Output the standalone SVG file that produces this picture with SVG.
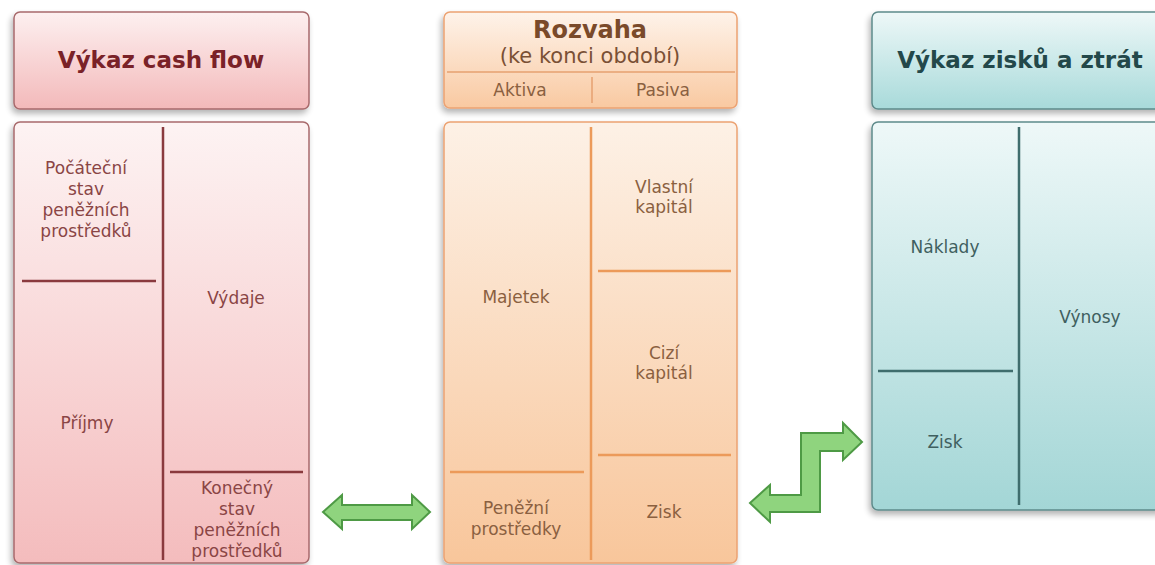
<svg xmlns="http://www.w3.org/2000/svg" width="1155" height="565" viewBox="0 0 1155 565">
<defs>
<linearGradient id="gRedH" x1="0" y1="0" x2="0" y2="1"><stop offset="0" stop-color="#fdf0f0"/><stop offset="1" stop-color="#f3b9ba"/></linearGradient>
<linearGradient id="gRedB" x1="0" y1="0" x2="0" y2="1"><stop offset="0" stop-color="#fdf3f3"/><stop offset="1" stop-color="#f4bcbd"/></linearGradient>
<linearGradient id="gOrH" x1="0" y1="0" x2="0" y2="1"><stop offset="0" stop-color="#fef3ea"/><stop offset="1" stop-color="#f9c9a1"/></linearGradient>
<linearGradient id="gOrB" x1="0" y1="0" x2="0" y2="1"><stop offset="0" stop-color="#fdf1e6"/><stop offset="1" stop-color="#f8c69b"/></linearGradient>
<linearGradient id="gTeH" x1="0" y1="0" x2="0" y2="1"><stop offset="0" stop-color="#eef8f8"/><stop offset="1" stop-color="#a8dada"/></linearGradient>
<linearGradient id="gTeB" x1="0" y1="0" x2="0" y2="1"><stop offset="0" stop-color="#eef8f8"/><stop offset="1" stop-color="#a3d6d6"/></linearGradient>
<filter id="sh" x="-10%" y="-10%" width="125%" height="125%"><feGaussianBlur in="SourceAlpha" stdDeviation="3"/><feOffset dx="-2" dy="4"/><feComponentTransfer><feFuncA type="linear" slope="0.3"/></feComponentTransfer><feMerge><feMergeNode/><feMergeNode in="SourceGraphic"/></feMerge></filter>
</defs>
<style>
text{font-family:"DejaVu Sans","Liberation Sans",Arial,sans-serif;text-anchor:middle}
.t{font-size:17px}
.red{fill:#8a4545}
.or{fill:#8a6040}
.te{fill:#3f5f5f}
.hd{font-size:23px;font-weight:bold}
.lr{stroke:#8a3a3e;stroke-width:2.5}
.lo{stroke:#ec9a5a;stroke-width:2.5}
.lt{stroke:#3f6d6d;stroke-width:2.5}
.arrow{fill:#8fd47e;stroke:#4e9a45;stroke-width:2;stroke-linejoin:miter}
</style>

<g id="cashflow-header">
<rect x="14" y="12" width="295" height="97" rx="6" fill="url(#gRedH)" stroke="#a86a6c" stroke-width="1.5" filter="url(#sh)"/>
<text x="161" y="68" class="hd" fill="#7a2228">Výkaz cash flow</text>
</g>
<g id="cashflow-body">
<rect x="14" y="122" width="295" height="441" rx="6" fill="url(#gRedB)" stroke="#a86a6c" stroke-width="1.5" filter="url(#sh)"/>
<line x1="163" y1="127" x2="163" y2="560" class="lr"/>
<line x1="22" y1="281" x2="156" y2="281" class="lr"/>
<line x1="170" y1="472" x2="303" y2="472" class="lr"/>
<text class="t red" x="86" y="174">Počáteční</text>
<text class="t red" x="86" y="195">stav</text>
<text class="t red" x="86" y="216">peněžních</text>
<text class="t red" x="86" y="237">prostředků</text>
<text class="t red" x="236" y="304">Výdaje</text>
<text class="t red" x="87" y="429">Příjmy</text>
<text class="t red" x="237" y="494">Konečný</text>
<text class="t red" x="237" y="515">stav</text>
<text class="t red" x="237" y="536">peněžních</text>
<text class="t red" x="237" y="557">prostředků</text>
</g>

<g id="rozvaha-header">
<rect x="444" y="12" width="293" height="96" rx="6" fill="url(#gOrH)" stroke="#eca272" stroke-width="1.5" filter="url(#sh)"/>
<text x="590" y="38" font-size="24" font-weight="bold" fill="#7a4a2a">Rozvaha</text>
<text x="590" y="63" font-size="21" fill="#7a5035">(ke konci období)</text>
<line x1="447" y1="72" x2="735" y2="72" stroke="#e6a070" stroke-width="1.5"/>
<line x1="592" y1="77" x2="592" y2="103" stroke="#e6a070" stroke-width="1.5"/>
<text class="t or" x="520" y="96">Aktiva</text>
<text class="t or" x="663" y="96">Pasiva</text>
</g>
<g id="rozvaha-body">
<rect x="444" y="122" width="293" height="441" rx="6" fill="url(#gOrB)" stroke="#eca272" stroke-width="1.5" filter="url(#sh)"/>
<line x1="591" y1="127" x2="591" y2="560" class="lo"/>
<line x1="598" y1="271" x2="731" y2="271" class="lo"/>
<line x1="598" y1="455" x2="731" y2="455" class="lo"/>
<line x1="450" y1="472" x2="584" y2="472" class="lo"/>
<text class="t or" x="664" y="193">Vlastní</text>
<text class="t or" x="664" y="213">kapitál</text>
<text class="t or" x="516" y="303">Majetek</text>
<text class="t or" x="664" y="359">Cizí</text>
<text class="t or" x="664" y="379">kapitál</text>
<text class="t or" x="516" y="514">Peněžní</text>
<text class="t or" x="516" y="535">prostředky</text>
<text class="t or" x="664" y="518">Zisk</text>
</g>

<g id="vzz-header">
<rect x="872" y="12" width="300" height="97" rx="6" fill="url(#gTeH)" stroke="#5e8a8a" stroke-width="1.5" filter="url(#sh)"/>
<text x="1020" y="68" class="hd" fill="#23484a">Výkaz zisků a ztrát</text>
</g>
<g id="vzz-body">
<rect x="872" y="122" width="300" height="388" rx="6" fill="url(#gTeB)" stroke="#5e8a8a" stroke-width="1.5" filter="url(#sh)"/>
<line x1="1019" y1="127" x2="1019" y2="505" class="lt"/>
<line x1="878" y1="371" x2="1013" y2="371" class="lt"/>
<text class="t te" x="945" y="253">Náklady</text>
<text class="t te" x="1090" y="323">Výnosy</text>
<text class="t te" x="945" y="448">Zisk</text>
</g>

<g id="connectors">
<path class="arrow" d="M323,512 L342,495 L342,505 L412,505 L412,495 L430,512 L412,529 L412,520 L342,520 L342,529 Z"/>
<path class="arrow" d="M750,503 L770,485 L770,495 L801,495 L801,433 L843,433 L843,423 L862,442 L843,460 L843,451 L820,451 L820,512 L770,512 L770,522 Z"/>
</g>
</svg>
